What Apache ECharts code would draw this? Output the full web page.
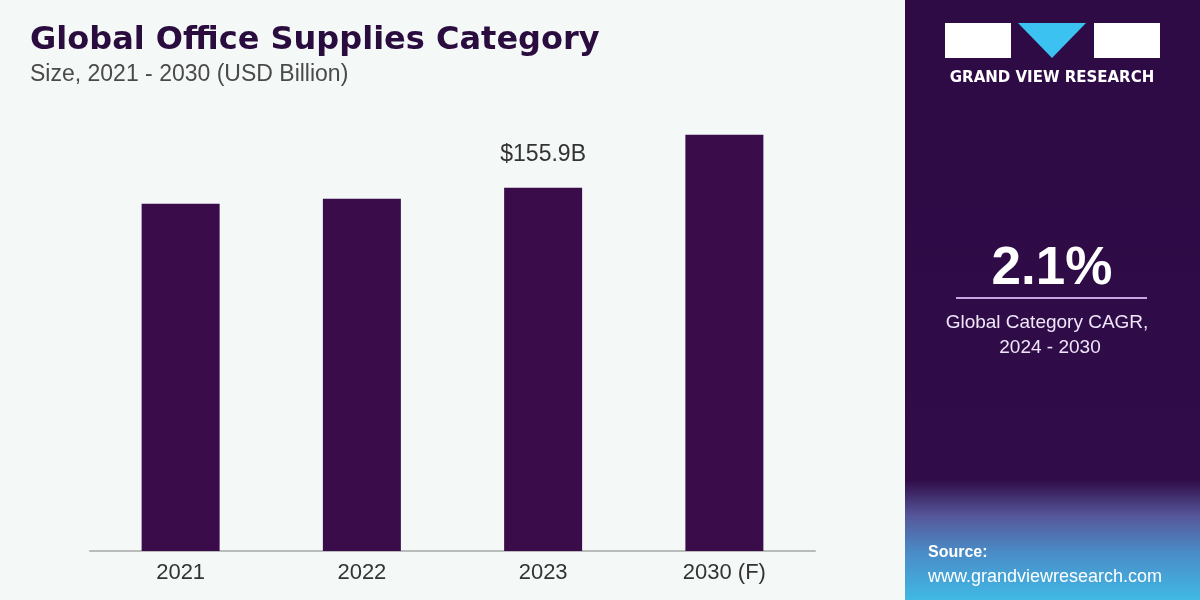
<!DOCTYPE html>
<html><head><meta charset="utf-8">
<script src="https://cdn.jsdelivr.net/npm/echarts@6/dist/echarts.min.js"></script>
<style>html,body{margin:0;padding:0;background:#f4f9f8}#c{width:1200px;height:600px}</style>
</head><body><div id="c"></div>
<script>
const categories = ['2021', '2022', '2023', '2030 (F)'];
const values = [149.0, 151.2, 155.9, 178.7];
const labelTexts = ['', '', '$155.9B', ''];
const cagrValue = '2.1%';
const cagrLabel = ['Global Category CAGR,', '2024 - 2030'];

const chart = echarts.init(document.getElementById('c'), null, {renderer: 'canvas'});
chart.setOption({
  backgroundColor: '#f4f9f8',
  animation: false,
  grid: {left: 90, right: 385, top: 85, bottom: 49},
  xAxis: {
    type: 'category', data: categories,
    axisLine: {show: true, lineStyle: {color: '#b8bcbb', width: 2}},
    axisTick: {show: false},
    axisLabel: {color: '#333', fontSize: 22, fontFamily: 'Liberation Sans, Arial', margin: 11}
  },
  yAxis: {type: 'value', min: 0, max: 200, show: false, splitLine: {show: false}},
  series: [{
    type: 'bar', data: values, barWidth: 78,
    itemStyle: {color: '#3a0c4a'},
    label: {
      show: true, position: 'top', distance: 22,
      formatter: p => labelTexts[p.dataIndex],
      color: '#333', fontSize: 23, fontFamily: 'Liberation Sans, Arial'
    }
  }],
  graphic: [
    {type: 'text', left: 30, top: 25, style: {text: 'Global Office Supplies Category', fill: '#2a0d3e', font: 'bold 32px "DejaVu Sans", Arial'}},
    {type: 'text', left: 30, top: 63, style: {text: 'Size, 2021 - 2030 (USD Billion)', fill: '#4a4a4a', font: '23px "Liberation Sans", Arial'}},
    {type: 'rect', shape: {x: 905, y: 0, width: 295, height: 600}, style: {
      fill: new echarts.graphic.LinearGradient(0, 0, 0, 1, [
        {offset: 0, color: '#2e0b45'}, {offset: 0.8, color: '#300c48'},
        {offset: 0.86, color: '#56579a'}, {offset: 0.92, color: '#4a8bc6'}, {offset: 1, color: '#40b9e5'}])
    }},
    {type: 'rect', shape: {x: 945, y: 23, width: 66, height: 35}, style: {fill: '#ffffff'}},
    {type: 'polygon', shape: {points: [[1018, 23], [1086, 23], [1052, 58]]}, style: {fill: '#3cc2f0'}},
    {type: 'rect', shape: {x: 1094, y: 23, width: 66, height: 35}, style: {fill: '#ffffff'}},
    {type: 'text', x: 1052, y: 78, style: {text: 'GRAND VIEW RESEARCH', fill: '#ffffff', font: 'bold 15px "DejaVu Sans", Arial', align: 'center', verticalAlign: 'middle'}},
    {type: 'text', x: 1052, y: 269, style: {text: cagrValue, fill: '#ffffff', font: 'bold 53px "Liberation Sans", Arial', align: 'center', verticalAlign: 'middle'}},
    {type: 'rect', shape: {x: 956, y: 297, width: 191, height: 2}, style: {fill: '#c7a6e6'}},
    {type: 'text', x: 1047, y: 323, style: {text: cagrLabel[0], fill: '#f0e6fa', font: '19px "Liberation Sans", Arial', align: 'center', verticalAlign: 'middle'}},
    {type: 'text', x: 1050, y: 348, style: {text: cagrLabel[1], fill: '#f0e6fa', font: '19px "Liberation Sans", Arial', align: 'center', verticalAlign: 'middle'}},
    {type: 'text', x: 928, y: 553, style: {text: 'Source:', fill: '#ffffff', font: 'bold 16px "Liberation Sans", Arial', verticalAlign: 'middle'}},
    {type: 'text', x: 928, y: 577, style: {text: 'www.grandviewresearch.com', fill: '#ffffff', font: '18px "Liberation Sans", Arial', verticalAlign: 'middle'}}
  ]
});
</script></body></html>
